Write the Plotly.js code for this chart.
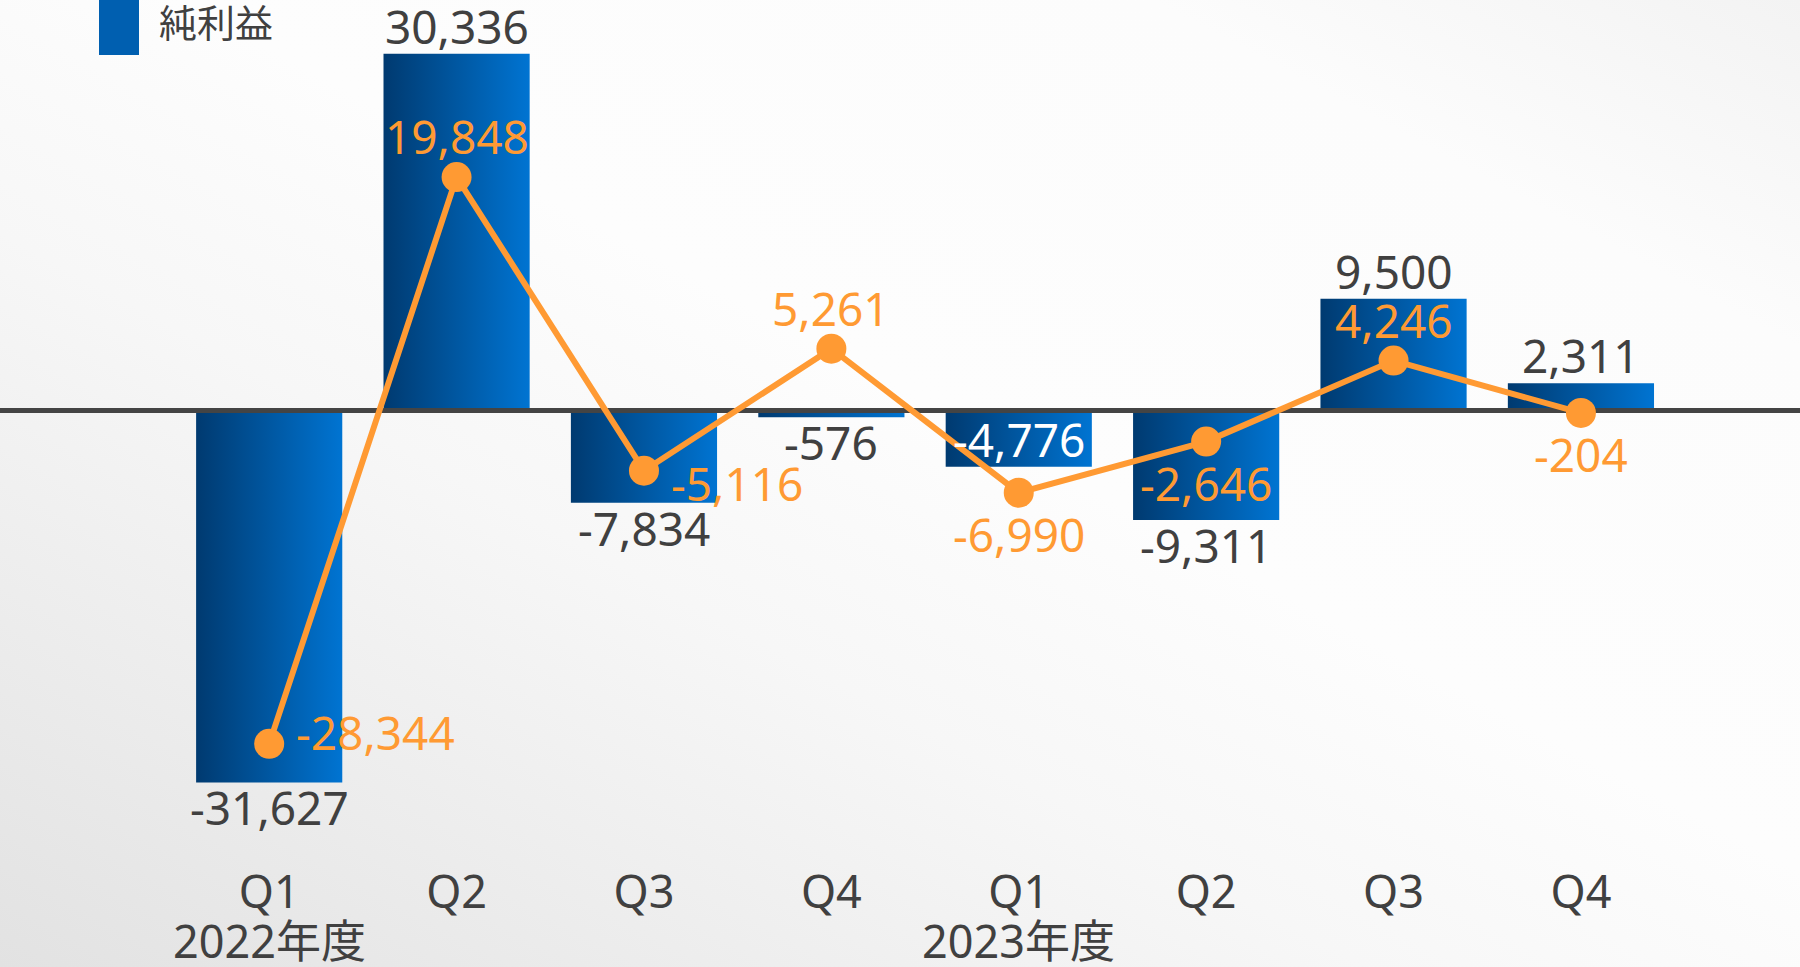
<!DOCTYPE html>
<html>
<head>
<meta charset="utf-8">
<script src="https://cdn.plot.ly/plotly-3.0.1.min.js"></script>
<style>
html, body { margin:0; padding:0; width:1800px; height:967px; overflow:hidden;
  background: linear-gradient(to top right, #e2e2e2 0%, #ececec 18%, #f7f7f7 38%, #fdfdfd 55%, #fcfcfc 82%, #f3f3f3 100%); }
#chart { width:1800px; height:967px; }
</style>
</head>
<body>
<div id="chart"></div>
<script>
// ---- data ----
const quarters    = ['Q1', 'Q2', 'Q3', 'Q4', 'Q1', 'Q2', 'Q3', 'Q4'];
const fiscalYears = ['2022年度', '', '', '', '2023年度', '', '', ''];
const netIncome   = [-31627, 30336, -7834, -576, -4776, -9311, 9500, 2311];
const lineValues  = [-28344, 19848, -5116, 5261, -6990, -2646, 4246, -204];
const barSeriesName = '純利益';

// ---- helpers / style ----
const FONT = "'Noto Sans', 'Noto Sans CJK JP', sans-serif";
const fmt = v => (v < 0 ? '-' : '') + Math.abs(v).toLocaleString('en-US');
const idx = quarters.map((_, i) => i);
const BAR_HALF = 0.39;
const X_RANGE = [-1.4365, 8.169];
const Y_RANGE = [-37117, 34906];
const INSIDE_LABEL = 4;
const LINE_LABEL_PLACE = ['upper-right', 'above', 'lower-right', 'above', 'below', 'below', 'above', 'below'];
const ORANGE = '#FF9A33';
const GRAY = '#404040';
const LABEL_SIZE = 46;

const traces = [];

// bars with horizontal gradient
netIncome.forEach((v, i) => {
  traces.push({
    type: 'scatter', mode: 'lines',
    x: [i - BAR_HALF, i + BAR_HALF, i + BAR_HALF, i - BAR_HALF, i - BAR_HALF],
    y: [0, 0, v, v, 0],
    fill: 'toself',
    fillgradient: { type: 'horizontal', colorscale: [[0, '#003a70'], [1, '#0074d2']] },
    line: { width: 0, color: 'rgba(0,0,0,0)' },
    hoverinfo: 'skip', showlegend: false
  });
});

// zero line
traces.push({
  type: 'scatter', mode: 'lines',
  x: X_RANGE, y: [0, 0],
  line: { color: '#444444', width: 5 },
  hoverinfo: 'skip', showlegend: false
});

// orange line
traces.push({
  type: 'scatter', mode: 'lines+markers',
  x: idx, y: lineValues,
  line: { color: ORANGE, width: 6 },
  marker: { color: ORANGE, size: 30 },
  showlegend: false
});

const annotations = [];

// bar value labels
netIncome.forEach((v, i) => {
  const inside = i === INSIDE_LABEL;
  annotations.push({
    x: i, y: inside ? v / 2 : v, xref: 'x', yref: 'y',
    text: fmt(v), showarrow: false,
    xanchor: 'center', yanchor: 'middle',
    yshift: inside ? 0 : (v >= 0 ? 28 : -25),
    font: { family: FONT, size: LABEL_SIZE, color: inside ? '#ffffff' : GRAY }
  });
});

// line value labels
lineValues.forEach((v, i) => {
  const p = LINE_LABEL_PLACE[i];
  const right = p.endsWith('right');
  annotations.push({
    x: i, y: v, xref: 'x', yref: 'y',
    text: fmt(v), showarrow: false,
    xanchor: right ? 'left' : 'center', yanchor: 'middle',
    xshift: right ? 25 : 0,
    yshift: p === 'above' ? 41 : p === 'below' ? -41 : p === 'upper-right' ? 12 : -12,
    font: { family: FONT, size: LABEL_SIZE, color: ORANGE }
  });
});

// fiscal year labels under the first quarter of each year
fiscalYears.forEach((fy, i) => {
  if (!fy) return;
  annotations.push({
    x: i, xref: 'x', yref: 'paper', y: (847 - 941) / 847,
    xanchor: 'center', yanchor: 'middle', showarrow: false,
    text: fy,
    font: { family: FONT, size: 45, color: GRAY }
  });
});

// legend text
annotations.push({
  xref: 'paper', yref: 'paper', x: 157 / 1800, y: 1 - 20 / 847,
  xanchor: 'left', yanchor: 'middle', showarrow: false,
  text: barSeriesName,
  font: { family: "'Noto Sans CJK JP', sans-serif", size: 38, color: GRAY }
});

const layout = {
  width: 1800, height: 967,
  margin: { l: 0, r: 0, t: 0, b: 120 },
  paper_bgcolor: 'rgba(0,0,0,0)', plot_bgcolor: 'rgba(0,0,0,0)',
  font: { family: FONT, color: GRAY },
  showlegend: false,
  xaxis: {
    range: X_RANGE, tickvals: idx, ticktext: quarters,
    showgrid: false, zeroline: false, showline: false, ticks: '',
    ticklabelstandoff: 15,
    tickfont: { family: FONT, size: 45, color: GRAY }, fixedrange: true
  },
  yaxis: { range: Y_RANGE, visible: false, fixedrange: true },
  shapes: [{
    type: 'rect', xref: 'paper', yref: 'paper',
    x0: 99 / 1800, x1: 139 / 1800, y0: 1 - 55 / 847, y1: 1.02,
    fillcolor: '#005fb0', line: { width: 0 }
  }],
  annotations: annotations
};

Plotly.newPlot('chart', traces, layout, { displayModeBar: false });
</script>
</body>
</html>
